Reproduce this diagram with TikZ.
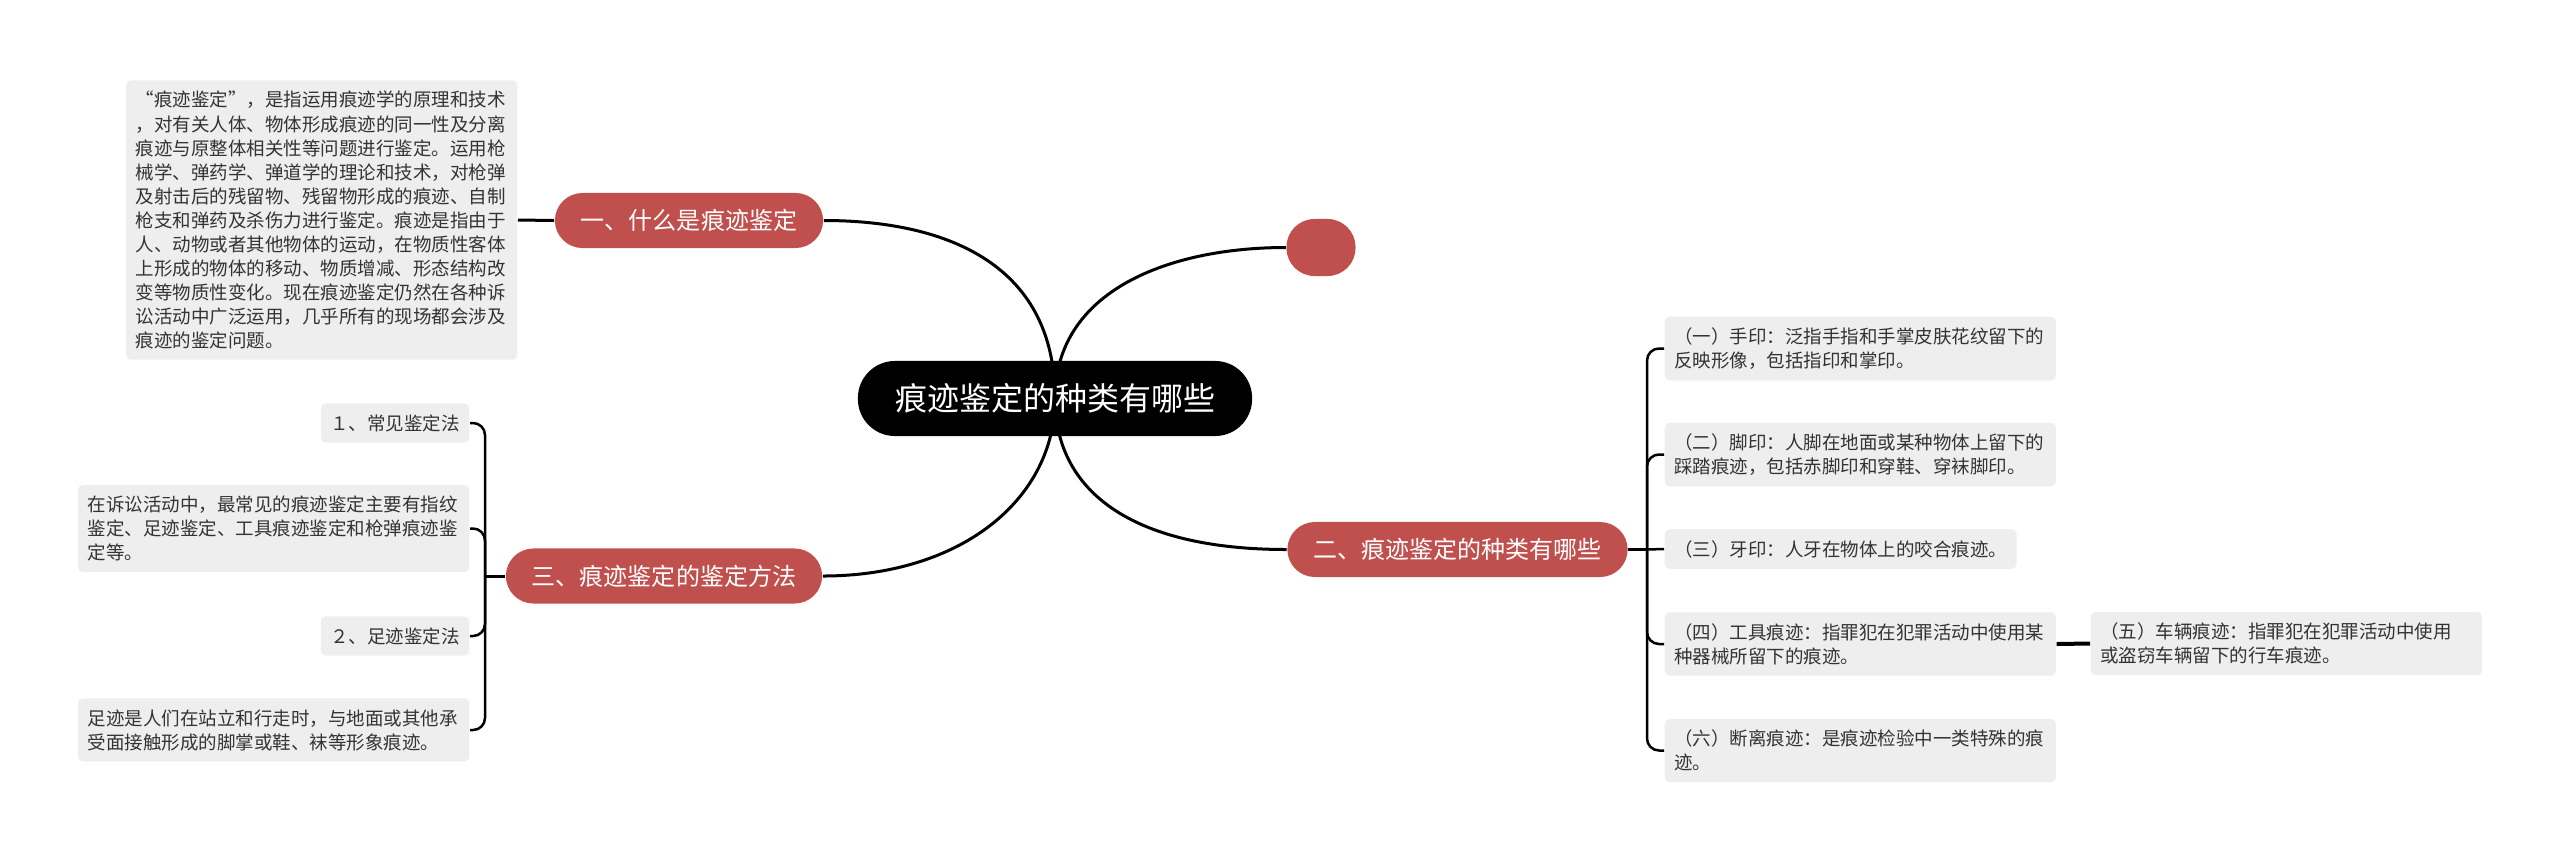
\documentclass[tikz,border=0pt]{standalone}
\usepackage{fontspec}
\setmainfont{Noto Sans CJK SC}
\usepackage{tikz}
\usetikzlibrary{backgrounds}
\usepackage{xcolor}
\definecolor{topicred}{RGB}{192, 80, 77}
\definecolor{leafgray}{RGB}{238, 238, 238}
\definecolor{textgray}{RGB}{51, 51, 51}

\begin{document}
\begin{tikzpicture}[x=0.01cm, y=-0.01cm,
        % Node styles
        root/.style={fill=black, text=white, rounded corners=0.37cm, minimum width=3.94cm, minimum height=0.75cm, inner sep=0pt, font=\fontsize{9.1pt}{10pt}\selectfont},
        topic/.style={fill=topicred, text=white, rounded corners=0.275cm, minimum height=0.55cm, inner xsep=0.26cm, inner ysep=0pt, font=\fontsize{6.83pt}{8pt}\selectfont},
        blank/.style={fill=topicred, rounded corners=0.28cm, minimum width=0.69cm, minimum height=0.57cm, inner sep=0pt},
        leaf/.style={fill=leafgray, text=textgray, rounded corners=0.05cm, inner xsep=0.095cm, inner ysep=0.11cm, align=left, font=\fontsize{5.26pt}{6.83pt}\selectfont},
        para/.style={leaf, text width=3.72cm},
        % Connector styles
        branch/.style={draw=black, line width=0.03cm},
        twig/.style={draw=black, line width=0.025cm, rounded corners=0.12cm}
    ]
    \useasboundingbox (0,0) rectangle (2560,863);

    % Central topic
    \node[root] (root) at (1055, 398.5) {痕迹鉴定的种类有哪些};

    % Main topics
    \node[topic] (what) at (689, 220.5) {一、什么是痕迹鉴定};
    \node[blank] (empty) at (1321, 247.5) {};
    \node[topic] (kinds) at (1457.5, 549.5) {二、痕迹鉴定的种类有哪些};
    \node[topic] (methods) at (664, 576) {三、痕迹鉴定的鉴定方法};

    % Definition
    \node[para, anchor=east] (define) at (518, 220) {“痕迹鉴定”，是指运用痕迹学的原理和技术\\，对有关人体、物体形成痕迹的同一性及分离\\痕迹与原整体相关性等问题进行鉴定。运用枪\\械学、弹药学、弹道学的理论和技术，对枪弹\\及射击后的残留物、残留物形成的痕迹、自制\\枪支和弹药及杀伤力进行鉴定。痕迹是指由于\\人、动物或者其他物体的运动，在物质性客体\\上形成的物体的移动、物质增减、形态结构改\\变等物质性变化。现在痕迹鉴定仍然在各种诉\\讼活动中广泛运用，几乎所有的现场都会涉及\\痕迹的鉴定问题。};

    % Methods
    \node[leaf, anchor=east] (common) at (470, 423) {１、常见鉴定法};
    \node[para, anchor=east] (commontext) at (470, 528.5) {在诉讼活动中，最常见的痕迹鉴定主要有指纹\\鉴定、足迹鉴定、工具痕迹鉴定和枪弹痕迹鉴\\定等。};
    \node[leaf, anchor=east] (foot) at (470, 636) {２、足迹鉴定法};
    \node[para, anchor=east] (foottext) at (470, 730) {足迹是人们在站立和行走时，与地面或其他承\\受面接触形成的脚掌或鞋、袜等形象痕迹。};
    \coordinate (ljoin) at (485, 576);

    % Kinds
    \node[para, anchor=west] (hand) at (1664, 348.5) {（一）手印：泛指手指和手掌皮肤花纹留下的\\反映形像，包括指印和掌印。};
    \node[para, anchor=west] (shoe) at (1664, 454.5) {（二）脚印：人脚在地面或某种物体上留下的\\踩踏痕迹，包括赤脚印和穿鞋、穿袜脚印。};
    \node[leaf, anchor=west] (teeth) at (1664, 549) {（三）牙印：人牙在物体上的咬合痕迹。};
    \node[para, anchor=west] (tool) at (1664, 644) {（四）工具痕迹：指罪犯在犯罪活动中使用某\\种器械所留下的痕迹。};
    \node[para, anchor=west] (vehicle) at (2090, 643.5) {（五）车辆痕迹：指罪犯在犯罪活动中使用\\或盗窃车辆留下的行车痕迹。};
    \node[para, anchor=west] (break) at (1664, 750.5) {（六）断离痕迹：是痕迹检验中一类特殊的痕\\迹。};
    \coordinate (rjoin) at (1647, 549.5);

    % Branches from the centre
    \begin{scope}[on background layer]
        \draw[branch] (root.center) .. controls (1055, 260) and (940, 220.5) .. (what.east);
        \draw[branch] (root.center) .. controls (1055, 290) and (1170, 247.5) .. (empty.west);
        \draw[branch] (root.center) .. controls (1055, 490) and (1130, 549.5) .. (kinds.west);
        \draw[branch] (root.center) .. controls (1055, 500) and (960, 576) .. (methods.east);
    \end{scope}

    % Sub branches
    \draw[branch] (what.west) -- (define.east);
    \draw[branch] (methods.west) -- (ljoin);
    \draw[twig] (ljoin) |- (common.east);
    \draw[twig] (ljoin) |- (commontext.east);
    \draw[twig] (ljoin) |- (foot.east);
    \draw[twig] (ljoin) |- (foottext.east);

    \draw[branch] (kinds.east) -- (rjoin);
    \draw[twig] (rjoin) |- (hand.west);
    \draw[twig] (rjoin) |- (shoe.west);
    \draw[twig] (rjoin) -- (teeth.west);
    \draw[twig] (rjoin) |- (tool.west);
    \draw[twig] (rjoin) |- (break.west);
    \draw[branch, line width=0.04cm] (tool.east) -- (vehicle.west);

\end{tikzpicture}
\end{document}
